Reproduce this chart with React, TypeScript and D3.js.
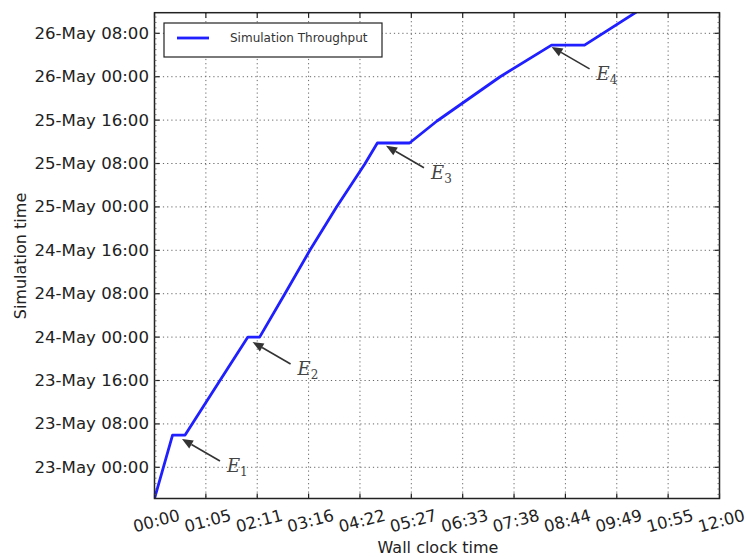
import React from 'react'
import * as d3 from 'd3'

// wall clock minutes since start, and the simulated time reached
const wallMinutes = [0, 23, 39, 83, 119, 134, 166, 198, 232, 268, 284, 325, 360, 440, 506, 548, 614]
const simTimes = [
  '2016-05-22 18:15', '2016-05-23 05:57', '2016-05-23 05:57', '2016-05-23 15:54',
  '2016-05-24 00:00', '2016-05-24 00:00', '2016-05-24 07:56', '2016-05-24 16:00',
  '2016-05-25 00:00', '2016-05-25 07:54', '2016-05-25 11:47', '2016-05-25 11:47',
  '2016-05-25 15:50', '2016-05-25 23:57', '2016-05-26 05:50', '2016-05-26 05:50',
  '2016-05-26 11:55',
]

const xTickLabels = ['00:00', '01:05', '02:11', '03:16', '04:22', '05:27', '06:33', '07:38', '08:44', '09:49', '10:55', '12:00']
const yTickTimes = [
  '2016-05-23 00:00', '2016-05-23 08:00', '2016-05-23 16:00', '2016-05-24 00:00',
  '2016-05-24 08:00', '2016-05-24 16:00', '2016-05-25 00:00', '2016-05-25 08:00',
  '2016-05-25 16:00', '2016-05-26 00:00', '2016-05-26 08:00',
]

const eventLabels = ['1', '2', '3', '4']
const eventMinutes = [35, 125, 295, 506]
const eventTimes = ['2016-05-23 05:13', '2016-05-23 23:06', '2016-05-25 11:16', '2016-05-26 05:30']

const parse = d3.timeParse('%Y-%m-%d %H:%M')
const fmt = d3.timeFormat('%d-%b %H:%M')

const W = 747
const H = 559
const left = 154.5
const right = 719.5
const top = 12.7
const bottom = 498.5

export default function App() {
  const x = d3.scaleLinear().domain([0, 720]).range([left, right])
  const y = d3
    .scaleTime()
    .domain([parse('2016-05-22 18:15')!, parse('2016-05-26 11:48')!])
    .range([bottom, top])

  const pts = wallMinutes.map((m, i) => [m, parse(simTimes[i])!] as [number, Date])
  const line = d3
    .line<[number, Date]>()
    .x((d) => x(d[0]))
    .y((d) => y(d[1]))

  const xTicks = xTickLabels.map((l, i) => ({ label: l, pos: x((720 / 11) * i) }))
  const yTicks = yTickTimes.map((t) => parse(t)!)
  const minorY = d3.timeHour.range(y.domain()[0], y.domain()[1])

  const font = 'DejaVu Sans, sans-serif'

  return (
    <svg width={W} height={H} style={{ position: 'absolute', left: 0, top: 0, background: '#fff' }}>
      <defs>
        <clipPath id="plot">
          <rect x={left} y={top} width={right - left} height={bottom - top} />
        </clipPath>
      </defs>
      {/* grid */}
      <g stroke="#666" strokeWidth={1} strokeDasharray="1.2,3">
        {xTicks.slice(1, -1).map((t, i) => (
          <line key={i} x1={t.pos} x2={t.pos} y1={top} y2={bottom} />
        ))}
        {yTicks.map((t, i) => (
          <line key={i} x1={left} x2={right} y1={y(t)} y2={y(t)} />
        ))}
      </g>
      {/* series */}
      <path
        d={line(pts)!}
        fill="none"
        stroke="#1f1fff"
        strokeWidth={2.8}
        strokeLinejoin="round"
        clipPath="url(#plot)"
      />
      {/* frame and ticks */}
      <rect x={left} y={top} width={right - left} height={bottom - top} fill="none" stroke="#222" strokeWidth={1.5} />
      <g stroke="#222" strokeWidth={1.2}>
        {xTicks.map((t, i) => (
          <g key={i}>
            <line x1={t.pos} x2={t.pos} y1={bottom} y2={bottom - 5} />
            <line x1={t.pos} x2={t.pos} y1={top} y2={top + 5} />
          </g>
        ))}
        {yTicks.map((t, i) => (
          <g key={i}>
            <line x1={left} x2={left + 5} y1={y(t)} y2={y(t)} />
            <line x1={right} x2={right - 5} y1={y(t)} y2={y(t)} />
          </g>
        ))}
      </g>
      <g stroke="#555" strokeWidth={0.8}>
        {minorY.map((t, i) => (
          <g key={i}>
            <line x1={left} x2={left + 2} y1={y(t)} y2={y(t)} />
            <line x1={right} x2={right - 2} y1={y(t)} y2={y(t)} />
          </g>
        ))}
      </g>
      {/* tick labels */}
      <g fontFamily={font} fontSize={16} fill="#222">
        {xTicks.map((t, i) => (
          <text
            key={i}
            x={t.pos + 2}
            y={521}
            textAnchor="middle"
            dominantBaseline="central"
            fontSize={16.5}
            transform={`rotate(-15, ${t.pos + 2}, 521)`}
          >
            {t.label}
          </text>
        ))}
        {yTicks.map((t, i) => (
          <text key={i} x={149} y={y(t)} textAnchor="end" dominantBaseline="central" fontSize={16.6}>
            {fmt(t)}
          </text>
        ))}
        <text x={438} y={553} textAnchor="middle">
          Wall clock time
        </text>
        <text x={26} y={256} textAnchor="middle" transform="rotate(-90, 26, 256)">
          Simulation time
        </text>
      </g>
      {/* event annotations */}
      {eventLabels.map((lab, i) => {
        const tx = x(eventMinutes[i])
        const ty = y(parse(eventTimes[i])!)
        const sx = tx + 45
        const sy = ty + 33
        const ex = sx - 7
        const ey = sy - 11
        const ang = Math.atan2(ty - ey, tx - ex)
        const hl = 11
        const hw = 4.5
        const bx = tx - hl * Math.cos(ang)
        const by = ty - hl * Math.sin(ang)
        const px = -Math.sin(ang) * hw
        const py = Math.cos(ang) * hw
        return (
          <g key={lab}>
            <line x1={ex} y1={ey} x2={bx} y2={by} stroke="#333" strokeWidth={1.6} />
            <path d={`M${tx},${ty}L${bx + px},${by + py}L${bx - px},${by - py}Z`} fill="#333" />
            <text x={sx} y={sy} fontFamily="DejaVu Serif, serif" fill="#444">
              <tspan fontStyle="italic" fontSize={18}>E</tspan>
              <tspan fontSize={12} dy={4}>{lab}</tspan>
            </text>
          </g>
        )
      })}
      {/* legend */}
      <g>
        <rect x={164} y={23} width={218} height={34} fill="#fff" stroke="#222" strokeWidth={1.2} />
        <line x1={177} x2={209} y1={38} y2={38} stroke="#1f1fff" strokeWidth={2.8} />
        <text x={230} y={42} fontFamily={font} fontSize={12} fill="#333">
          Simulation Throughput
        </text>
      </g>
    </svg>
  )
}
